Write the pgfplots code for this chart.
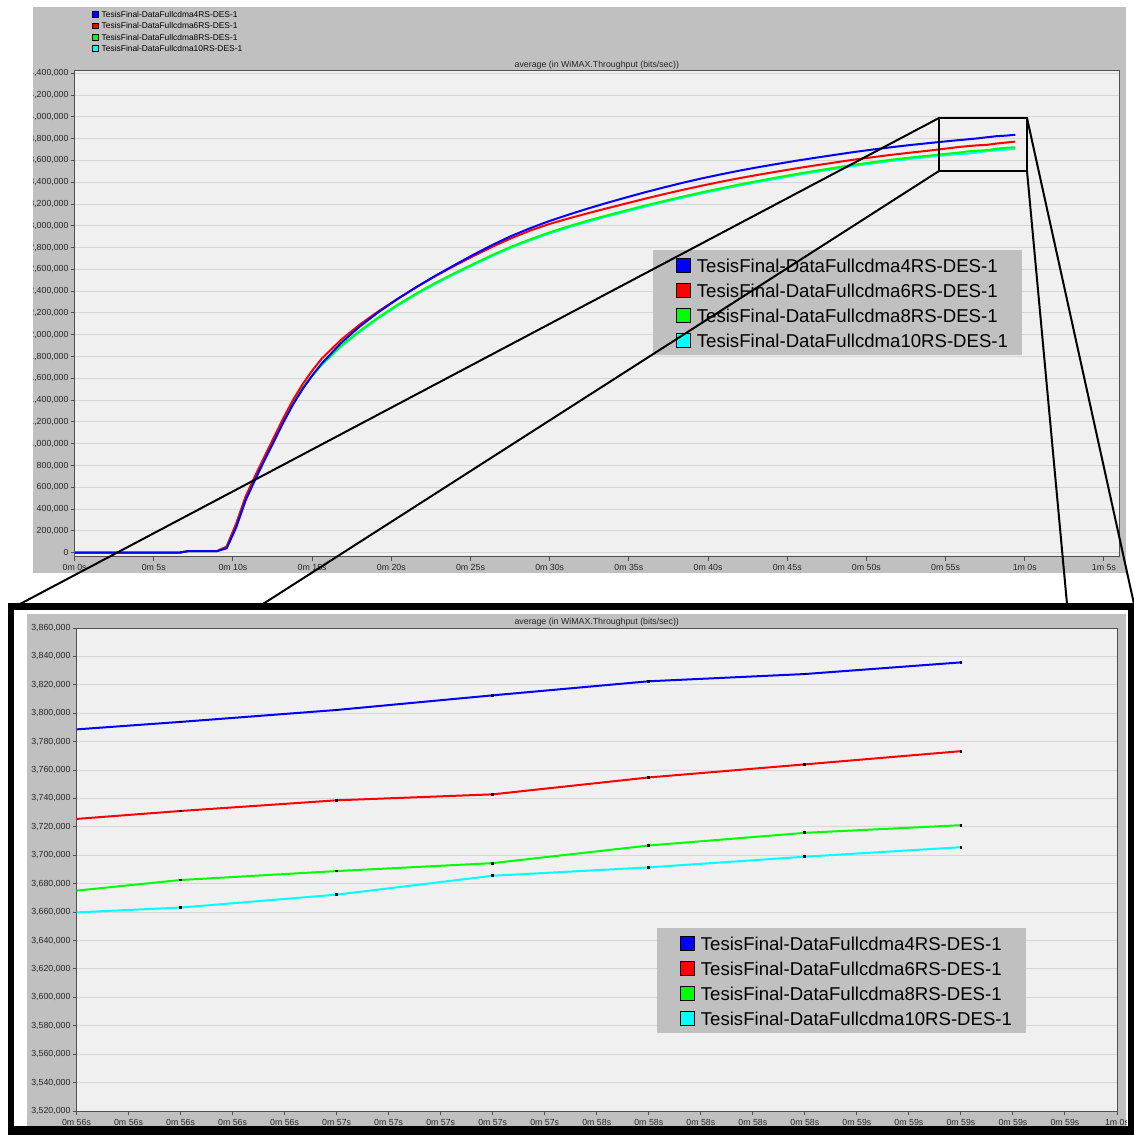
\documentclass[border=0pt]{standalone}
\usepackage{fontspec}
\setmainfont{Liberation Sans}
\usepackage{pgfplots}
\pgfplotsset{compat=1.18}
\usepackage{pgfplotstable}

\definecolor{panelgray}{RGB}{192,192,192}
\definecolor{plotbg}{RGB}{240,240,240}
\definecolor{gridgray}{RGB}{214,214,214}
\definecolor{axgray}{RGB}{80,80,80}
\definecolor{cB}{RGB}{0,0,255}
\definecolor{cR}{RGB}{255,0,0}
\definecolor{cG}{RGB}{0,255,0}
\definecolor{cC}{RGB}{0,255,255}

\newcommand{\smallf}{\fontsize{4.4}{5.2}\selectfont}
\newcommand{\legf}{\fontsize{4.2}{5}\selectfont}
\newcommand{\bigf}{\fontsize{9.3}{11}\selectfont}

\pgfplotstableread{
t b r g c
0 0 0 0 0
6.6 0 0 0 0
7.2 15000 15000 15000 15000
9.0 15000 15000 15000 15000
9.6 40000 55000 55000 55000
10.2 230000 265000 260000 260000
10.8 480000 515000 510000 510000
11.4 670000 705000 700000 700000
12.0 850000 885000 880000 880000
12.6 1025000 1063000 1055000 1055000
13.2 1200000 1240000 1225000 1225000
13.8 1362000 1404000 1380000 1380000
14.4 1502000 1547000 1512000 1512000
15.0 1625000 1670000 1625000 1625000
15.6 1735000 1780000 1727000 1722000
16.8 1921000 1951000 1896000 1889000
18.0 2075000 2093000 2035000 2027000
19.2 2209000 2217000 2161000 2152000
20.4 2329000 2331000 2276000 2267000
21.6 2439000 2439000 2381000 2372000
22.8 2543000 2540000 2478000 2469000
24.0 2641000 2634000 2566000 2557000
25.2 2736000 2724000 2651000 2642000
26.4 2826000 2809000 2733000 2724000
27.6 2908000 2888000 2810000 2801000
28.8 2980000 2958000 2878000 2869000
30.0 3045000 3018000 2940000 2930000
31.2 3103000 3068000 2996000 2986000
32.4 3158000 3115000 3047000 3037000
33.6 3210000 3160000 3095000 3085000
34.8 3259000 3204000 3140000 3130000
36.0 3307000 3248000 3185000 3175000
37.2 3352000 3290000 3227000 3217000
38.4 3395000 3330000 3268000 3258000
39.6 3435000 3368000 3307000 3297000
40.8 3472000 3404000 3344000 3334000
42.0 3507000 3438000 3380000 3370000
43.2 3539000 3469000 3413000 3403000
44.4 3569000 3499000 3445000 3435000
45.6 3598000 3528000 3476000 3466000
46.8 3625000 3555000 3505000 3494000
48.0 3651000 3581000 3533000 3522000
49.2 3677000 3607000 3560000 3549000
50.4 3700000 3630000 3584000 3573000
51.6 3722000 3652000 3607000 3595000
52.8 3742000 3672000 3627000 3615000
54.0 3760000 3691000 3645000 3633000
55.2 3778000 3712000 3663000 3650000
55.8 3786000 3722800 3671400 3658100
56.4 3793900 3731200 3682600 3663200
57.0 3802300 3738700 3688900 3672300
57.6 3812600 3742900 3694500 3685600
58.2 3822500 3754800 3706900 3691500
58.8 3827600 3764000 3715800 3699000
59.4 3835800 3773300 3721200 3705700
}\fulldata

\pgfplotstableread{
t b r g c
55.8 3786000 3722800 3671400 3658100
56.4 3793900 3731200 3682600 3663200
57.0 3802300 3738700 3688900 3672300
57.6 3812600 3742900 3694500 3685600
58.2 3822500 3754800 3706900 3691500
58.8 3827600 3764000 3715800 3699000
59.4 3835800 3773300 3721200 3705700
}\zoomdata

\pgfplotsset{
  opnet/.style={
    scale only axis,
    anchor=south west,
    axis background/.style={fill=plotbg},
    axis line style={axgray, line width=0.5pt},
    ymajorgrids,
    major grid style={gridgray, line width=0.5pt},
    tick align=outside,
    major tick length=2pt,
    tick style={axgray, line width=0.5pt},
    xtick pos=left, ytick pos=left,
    ticklabel style={font=\smallf, text=black!85},
    xticklabel style={yshift=1.5pt},
    /pgf/number format/assume math mode=true,
    scaled y ticks=false,
    yticklabel style={xshift=2.5pt, /pgf/number format/fixed, /pgf/number format/precision=0, /pgf/number format/1000 sep={,}},
    every axis title shift=0pt,
    title style={font=\smallf, text=black!85, at={(0.5,1)}, anchor=base, yshift=1.7pt, inner sep=0pt},
    title={average (in WiMAX.Throughput (bits/sec))},
  },
  bigleg/.style={
    legend cell align=left,
    legend style={fill=panelgray, draw=none, font=\bigf, inner xsep=7pt, inner ysep=3.6pt,
      row sep=5pt, nodes={inner sep=0pt, text height=7pt, text depth=0pt},
      /tikz/every odd column/.append style={column sep=3pt}},
  },
  sqB/.style={legend image code/.code={\path (0pt,0pt); \draw[fill=cB,draw=black,line width=0.5pt] (4pt,-3.5pt) rectangle (11pt,3.5pt);}},
  sqR/.style={legend image code/.code={\path (0pt,0pt); \draw[fill=cR,draw=black,line width=0.5pt] (4pt,-3.5pt) rectangle (11pt,3.5pt);}},
  sqG/.style={legend image code/.code={\path (0pt,0pt); \draw[fill=cG,draw=black,line width=0.5pt] (4pt,-3.5pt) rectangle (11pt,3.5pt);}},
  sqC/.style={legend image code/.code={\path (0pt,0pt); \draw[fill=cC,draw=black,line width=0.5pt] (4pt,-3.5pt) rectangle (11pt,3.5pt);}},
  ssB/.style={legend image code/.code={\draw[fill=cB,draw=black,line width=0.3pt] (0pt,-1.4pt) rectangle (2.8pt,1.4pt);}},
  ssR/.style={legend image code/.code={\draw[fill=cR,draw=black,line width=0.3pt] (0pt,-1.4pt) rectangle (2.8pt,1.4pt);}},
  ssG/.style={legend image code/.code={\draw[fill=cG,draw=black,line width=0.3pt] (0pt,-1.4pt) rectangle (2.8pt,1.4pt);}},
  ssC/.style={legend image code/.code={\draw[fill=cC,draw=black,line width=0.3pt] (0pt,-1.4pt) rectangle (2.8pt,1.4pt);}},
}

\begin{document}
\begin{tikzpicture}
\useasboundingbox (0pt,0pt) rectangle (567pt,567.5pt);
\fill[white] (0pt,0pt) rectangle (567pt,567.5pt);

% ---------- top panel ----------
\fill[panelgray] (16.5pt,281pt) rectangle (563pt,564pt);
\begin{scope}
\clip (16.5pt,281pt) rectangle (563pt,564pt);
\begin{axis}[opnet, at={(37.3pt,289.15pt)}, width=522.2pt, height=242.85pt,
  xmin=0, xmax=65.95, ymin=-36700, ymax=4421000,
  xtick={0,5,10,15,20,25,30,35,40,45,50,55,60,65},
  xticklabels={0m 0s,0m 5s,0m 10s,0m 15s,0m 20s,0m 25s,0m 30s,0m 35s,0m 40s,0m 45s,0m 50s,0m 55s,1m 0s,1m 5s},
  ytick={0,200000,400000,600000,800000,1000000,1200000,1400000,1600000,1800000,2000000,2200000,2400000,2600000,2800000,3000000,3200000,3400000,3600000,3800000,4000000,4200000,4400000},
  bigleg, reverse legend,
  legend style={at={(0.5538,0.6315)}, anchor=north west},
]
\addplot[cC, line width=1pt, sqC] table[x=t, y=c] {\fulldata};
\addlegendentry{TesisFinal-DataFullcdma10RS-DES-1}
\addplot[cG, line width=1pt, sqG] table[x=t, y=g] {\fulldata};
\addlegendentry{TesisFinal-DataFullcdma8RS-DES-1}
\addplot[cR, line width=1pt, sqR] table[x=t, y=r] {\fulldata};
\addlegendentry{TesisFinal-DataFullcdma6RS-DES-1}
\addplot[cB, line width=1pt, sqB] table[x=t, y=b] {\fulldata};
\addlegendentry{TesisFinal-DataFullcdma4RS-DES-1}
\end{axis}
\end{scope}
% small legend at top left
\begin{axis}[scale only axis, anchor=south west, at={(37.3pt,289.15pt)}, width=522.2pt, height=242.85pt,
  xmin=0, xmax=1, ymin=0, ymax=1, hide axis,
  legend cell align=left,
  legend style={at={(0.0164,1.1235)}, anchor=north west, fill=none, draw=none, inner sep=0pt,
    font=\legf, row sep=2.55pt, nodes={inner sep=0pt, text height=3pt, text depth=0pt},
    /tikz/every odd column/.append style={column sep=1.7pt}},
]
\addlegendimage{ssB}
\addlegendentry{TesisFinal-DataFullcdma4RS-DES-1}
\addlegendimage{ssR}
\addlegendentry{TesisFinal-DataFullcdma6RS-DES-1}
\addlegendimage{ssG}
\addlegendentry{TesisFinal-DataFullcdma8RS-DES-1}
\addlegendimage{ssC}
\addlegendentry{TesisFinal-DataFullcdma10RS-DES-1}
\end{axis}

% zoom box and connecting lines
\draw[black, line width=1pt] (469.5pt,482pt) rectangle (513.5pt,508.5pt);
\draw[black, line width=1pt] (469.5pt,508.5pt) -- (10pt,265.5pt);
\draw[black, line width=1pt] (469.5pt,482pt) -- (131.5pt,265.5pt);
\draw[black, line width=1pt] (513.5pt,508.5pt) -- (567pt,265.5pt);
\draw[black, line width=1pt] (513.5pt,482pt) -- (533.5pt,265.5pt);

% ---------- bottom panel ----------
\fill[black] (4pt,0pt) rectangle (567pt,266pt);
\fill[white] (7pt,4.5pt) rectangle (564pt,262.5pt);
\fill[panelgray] (13.5pt,4.5pt) rectangle (563pt,260.5pt);
\begin{scope}
\clip (13.5pt,4.5pt) rectangle (563pt,260.5pt);
\begin{axis}[opnet, at={(38.25pt,12pt)}, width=520.25pt, height=241.5pt,
  xmin=56, xmax=60, ymin=3520000, ymax=3860000,
  xtick={56,56.2,56.4,56.6,56.8,57,57.2,57.4,57.6,57.8,58,58.2,58.4,58.6,58.8,59,59.2,59.4,59.6,59.8,60},
  xticklabels={0m 56s,0m 56s,0m 56s,0m 56s,0m 56s,0m 57s,0m 57s,0m 57s,0m 57s,0m 57s,0m 58s,0m 58s,0m 58s,0m 58s,0m 58s,0m 59s,0m 59s,0m 59s,0m 59s,0m 59s,1m 0s},
  ytick={3520000,3540000,3560000,3580000,3600000,3620000,3640000,3660000,3680000,3700000,3720000,3740000,3760000,3780000,3800000,3820000,3840000,3860000},
  bigleg,
  legend style={at={(0.5579,0.3789)}, anchor=north west},
  every axis plot/.append style={mark=square*, mark size=0.45pt, mark phase=1, mark options={fill=black, draw=black, line width=0pt}},
]
\addplot[cB, line width=1pt, sqB] table[x=t, y=b] {\zoomdata};
\addlegendentry{TesisFinal-DataFullcdma4RS-DES-1}
\addplot[cR, line width=1pt, sqR] table[x=t, y=r] {\zoomdata};
\addlegendentry{TesisFinal-DataFullcdma6RS-DES-1}
\addplot[cG, line width=1pt, sqG] table[x=t, y=g] {\zoomdata};
\addlegendentry{TesisFinal-DataFullcdma8RS-DES-1}
\addplot[cC, line width=1pt, sqC] table[x=t, y=c] {\zoomdata};
\addlegendentry{TesisFinal-DataFullcdma10RS-DES-1}
\end{axis}
\end{scope}
\end{tikzpicture}
\end{document}
